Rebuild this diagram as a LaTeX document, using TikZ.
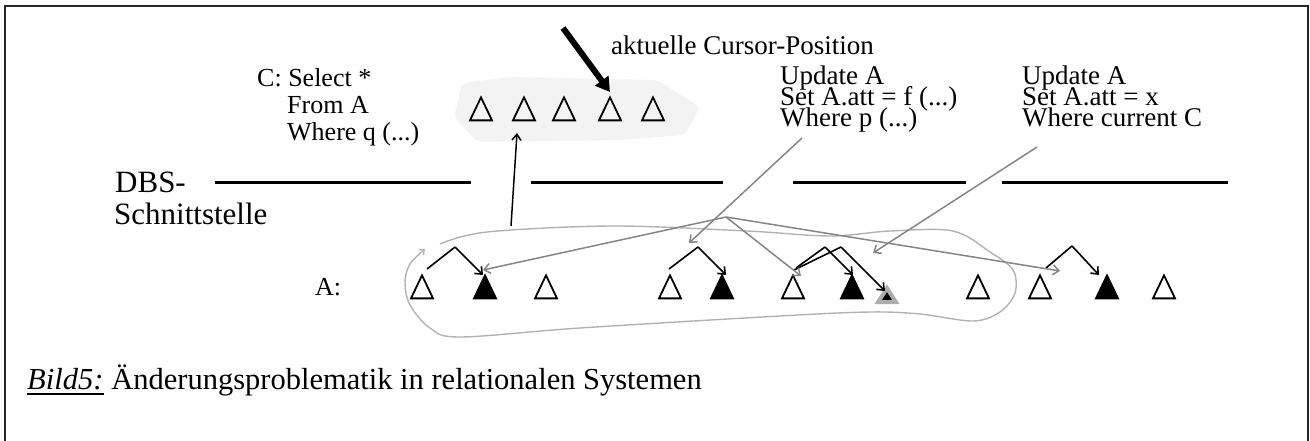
\documentclass[tikz,border=0pt]{standalone}
\usepackage{fontspec}
\setmainfont{Liberation Serif}
\usetikzlibrary{shapes.geometric,arrows.meta}
\newcommand\fsz[1]{\fontsize{#1}{#1}\selectfont}
\definecolor{arrgray}{HTML}{858585}
\definecolor{loopgray}{HTML}{B2B2B2}
\definecolor{blobgray}{HTML}{F3F3F3}
\begin{document}
\begin{tikzpicture}[x=1pt,y=-1pt,
  lbl/.style={inner sep=0pt, anchor=base west, font=\fsz{26}},
  tri/.style={isosceles triangle, isosceles triangle stretches, shape border rotate=90,
     minimum width=22pt, minimum height=23pt, inner sep=0pt, draw=black, line width=1.8pt,
     anchor=apex},
  trif/.style={tri, fill=black},
  trig/.style={tri, fill=black, draw=gray!65, line width=4pt, minimum width=18pt, minimum height=14pt},
  tipb/.style={-{Straight Barb[length=6pt,width=10pt]}},
  blk/.style={line width=1.6pt, black},
  gry/.style={line width=1.5pt, arrgray},
  dbs/.style={line width=3pt, black},
  frame/.style={line width=2pt, black!85}]
\useasboundingbox (0,0) rectangle (1310,441);
% frame
\draw[frame] (5,441) -- (5,6) -- (1308,6) -- (1308,441);
% blob with result triangles
\fill[blobgray, rounded corners=6pt] (462,83) -- (510,77) -- (657,80) -- (700,107) -- (685,135) -- (620,140) -- (477,142) -- (454,117) -- cycle;
\foreach \n/\x in {1/481,2/524,3/564,4/610,5/653}
  \node[tri] (b\n) at (\x,95) {};
% texts
\node[lbl] (csel) at (257,87) {C: Select *};
\node[lbl] (cfrom) at (287,114) {From A};
\node[lbl] (cwhere) at (287,141) {Where q (...)};
\node[lbl, font=\fsz{27}] (cursor) at (611,55) {aktuelle Cursor-Position};
\node[lbl, font=\fsz{27}] (ua1) at (780,85) {Update A};
\node[lbl, font=\fsz{27}] (ua2) at (780,106) {Set A.att = f (...)};
\node[lbl, font=\fsz{27}] (ua3) at (780,127) {Where p (...)};
\node[lbl, font=\fsz{27}] (ub1) at (1022,85) {Update A};
\node[lbl, font=\fsz{27}] (ub2) at (1022,106) {Set A.att = x};
\node[lbl, font=\fsz{27}] (ub3) at (1022,127) {Where current C};
\node[lbl, font=\fsz{31}] (dbs1) at (115,193) {DBS-};
\node[lbl, font=\fsz{31}] (dbs2) at (114,225) {Schnittstelle};
\node[lbl] (alab) at (315,295) {A:};
\node[lbl, font=\fsz{30.5}\itshape] (bild) at (27,389) {Bild5:};
\node[lbl, font=\fsz{30.5}, anchor=base west] (captxt) at ([xshift=7.5pt]bild.base east) {Änderungsproblematik in relationalen Systemen};
\draw[line width=1.5pt] ([yshift=-5pt]bild.base west) -- ([yshift=-5pt]bild.base east);
% DBS interface lines
\draw[dbs] (215,183) -- (471,183);
\draw[dbs] (531,183) -- (723,183);
\draw[dbs] (793,183) -- (966,183);
\draw[dbs] (1002,183) -- (1228,183);
% relation A triangles
\node[tri]  (t1)  at (422,273) {};
\node[trif] (t2)  at (485,273) {};
\node[tri]  (t3)  at (546,273) {};
\node[tri]  (t4)  at (670,273) {};
\node[trif] (t5)  at (722,273) {};
\node[tri]  (t6)  at (793,273) {};
\node[trif] (t7)  at (852,273) {};
\node[trig] (t8)  at (887,283) {};
\node[tri]  (t9)  at (978,273) {};
\node[tri]  (t10) at (1040,273) {};
\node[trif] (t11) at (1107,273) {};
\node[tri]  (t12) at (1164,273) {};
% gray loop
\draw[line width=1.4pt, loopgray, -{Straight Barb[length=4pt,width=7pt]}]
  plot[smooth, tension=0.55] coordinates {(440,244) (487,232) (613,226) (747,231) (830,236) (890,231) (953,231) (990,252) (1013,270) (1015,293) (1000,312) (973,321) (920,314) (870,312) (780,316) (580,328) (460,337) (430,328) (410,305) (405,282) (410,264) (425,249)};
% tree pointers
\coordinate (ap1) at (455,247);
\coordinate (ap2) at (698,247);
\coordinate (ap3a) at (825,247);
\coordinate (ap3b) at (841,247);
\coordinate (ap4) at (1072,246);
\draw[blk] (ap1) -- (427,269);
\draw[blk, tipb] (ap1) -- ([shift={(-2pt,-2pt)}]t2.apex);
\draw[blk] (ap2) -- (669,269);
\draw[blk, tipb] (ap2) -- ([shift={(4pt,-2pt)}]t5.apex);
\draw[blk] (ap3a) -- (796,268);
\draw[blk] (ap3b) -- (794,270);
\draw[blk, tipb] (ap3a) -- ([shift={(1pt,-2pt)}]t7.apex);
\draw[blk, tipb] (ap3b) -- ([shift={(-2pt,-8pt)}]t8.apex);
\draw[blk] (ap4) -- (1046,268);
\draw[blk, tipb] (ap4) -- ([shift={(-8pt,-2pt)}]t11.apex);
% cursor arrow
\coordinate (thstart) at (563,28);
\draw[line width=6pt, -{Triangle[length=14pt,width=16pt]}] (thstart) -- ([yshift=3pt]b4.apex);
% arrow from A to result set
\coordinate (ptr) at (511,226);
\coordinate (blobin) at (517,133);
\draw[line width=1.5pt, -{Straight Barb[length=6pt,width=9pt]}] (ptr) -- (blobin);
% gray arrows
\coordinate (hub) at (726,217);
\coordinate (upd1) at (802,138);
\coordinate (upd2) at (1037,147);
\draw[gry, tipb] (hub) -- ([shift={(-2pt,3pt)}]t2.apex);
\draw[gry, tipb] (hub) -- ([shift={(8pt,-3pt)}]t6.apex);
\draw[gry, tipb] (hub) -- ([shift={(20pt,2pt)}]t10.apex);
\draw[gry, tipb] (upd1) -- ([shift={(19pt,30pt)}]t4.apex);
\draw[gry, tipb] (upd2) -- ([shift={(-14pt,30pt)}]t8.apex);
\end{tikzpicture}
\end{document}
